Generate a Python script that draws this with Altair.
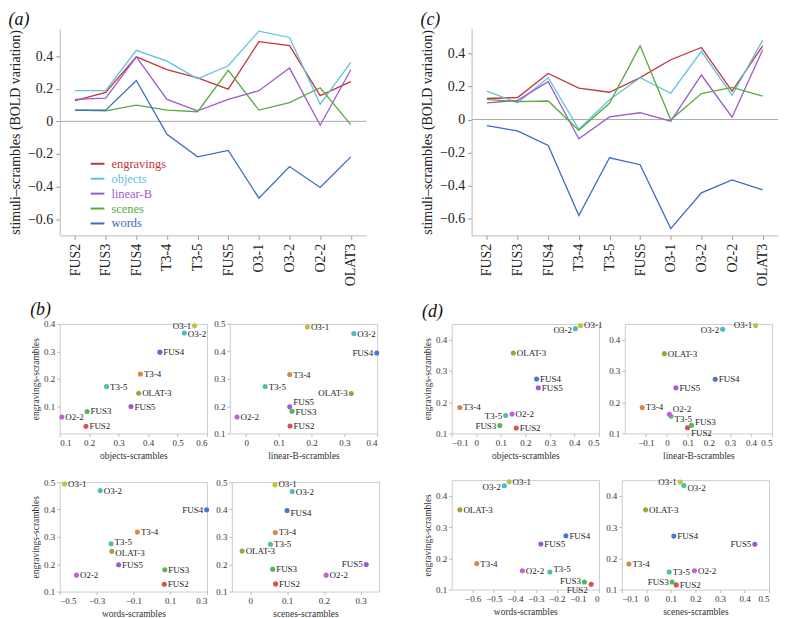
import altair as alt
import pandas as pd

FONT = "Liberation Serif, Times New Roman, Times, Tinos, Noto Serif, DejaVu Serif, serif"

# ---------------- line charts (a) and (c) ----------------
regions = ["FUS2", "FUS3", "FUS4", "T3-4", "T3-5", "FUS5", "O3-1", "O3-2", "O2-2", "OLAT3"]
series = ["engravings", "objects", "linear-B", "scenes", "words"]
line_colors = ["#c4363c", "#5ec3dc", "#9b5bd2", "#5aaa42", "#3d69c8"]

a_engravings = [0.127, 0.178, 0.396, 0.317, 0.267, 0.198, 0.489, 0.465, 0.158, 0.244]
a_objects = [0.188, 0.188, 0.436, 0.370, 0.261, 0.341, 0.554, 0.515, 0.105, 0.362]
a_linearB = [0.135, 0.143, 0.396, 0.135, 0.065, 0.135, 0.188, 0.327, -0.024, 0.317]
a_scenes = [0.069, 0.065, 0.099, 0.069, 0.059, 0.313, 0.069, 0.115, 0.206, -0.020]
a_words = [0.069, 0.069, 0.251, -0.079, -0.218, -0.178, -0.471, -0.277, -0.406, -0.218]

c_engravings = [0.127, 0.133, 0.278, 0.190, 0.165, 0.253, 0.361, 0.435, 0.171, 0.445]
c_objects = [0.171, 0.102, 0.253, -0.059, 0.120, 0.253, 0.159, 0.412, 0.147, 0.480]
c_linearB = [0.100, 0.116, 0.229, -0.116, 0.016, 0.041, -0.010, 0.269, 0.014, 0.422]
c_scenes = [0.122, 0.108, 0.112, -0.065, 0.098, 0.445, -0.002, 0.157, 0.194, 0.141]
c_words = [-0.037, -0.069, -0.157, -0.580, -0.231, -0.273, -0.659, -0.443, -0.365, -0.425]

# ---------------- scatter panels (b) and (d) ----------------
points = ["O3-1", "O3-2", "FUS4", "T3-4", "T3-5", "OLAT-3", "FUS5", "FUS3", "O2-2", "FUS2"]
point_colors = ["#c4bf3c", "#4dbcbc", "#4a78d0", "#d4894a", "#52bf98",
                "#a6a23a", "#9c5ad8", "#50bb50", "#c460d6", "#d8505a"]

b_objects_x = [0.558, 0.523, 0.440, 0.374, 0.259, 0.368, 0.342, 0.193, 0.107, 0.189]
b_objects_y = [0.393, 0.367, 0.297, 0.217, 0.171, 0.147, 0.098, 0.080, 0.060, 0.026]
b_linearB_x = [0.187, 0.329, 0.399, 0.133, 0.058, 0.321, 0.133, 0.140, -0.028, 0.134]
b_linearB_y = [0.489, 0.465, 0.394, 0.315, 0.271, 0.246, 0.197, 0.181, 0.160, 0.127]
b_words_x = [-0.474, -0.280, 0.298, -0.078, -0.221, -0.217, -0.180, 0.071, -0.409, 0.068]
b_words_y = [0.493, 0.469, 0.399, 0.318, 0.275, 0.247, 0.198, 0.180, 0.160, 0.127]
b_scenes_x = [0.067, 0.114, 0.100, 0.068, 0.055, -0.022, 0.315, 0.061, 0.206, 0.069]
b_scenes_y = [0.490, 0.466, 0.396, 0.316, 0.273, 0.248, 0.199, 0.182, 0.160, 0.128]

d_objects_x = [0.425, 0.404, 0.246, -0.067, 0.120, 0.151, 0.253, 0.096, 0.146, 0.163]
d_objects_y = [0.445, 0.435, 0.274, 0.183, 0.157, 0.357, 0.246, 0.125, 0.162, 0.117]
d_linearB_x = [0.422, 0.265, 0.230, -0.117, 0.020, -0.012, 0.043, 0.117, 0.012, 0.098]
d_linearB_y = [0.445, 0.433, 0.273, 0.183, 0.155, 0.355, 0.246, 0.126, 0.161, 0.118]
d_words_x = [-0.427, -0.450, -0.157, -0.581, -0.233, -0.661, -0.276, -0.069, -0.364, -0.037]
d_words_y = [0.445, 0.432, 0.272, 0.183, 0.156, 0.355, 0.246, 0.124, 0.160, 0.117]
d_scenes_x = [0.138, 0.153, 0.112, -0.071, 0.093, -0.003, 0.442, 0.105, 0.196, 0.122]
d_scenes_y = [0.444, 0.433, 0.271, 0.182, 0.156, 0.355, 0.245, 0.124, 0.160, 0.115]

LABEL_EXPR = "datum.value == 0 ? '0' : format(datum.value, '.1f')"


def line_panel(vals, ydomain, title, show_legend):
    rows = []
    for s, arr in zip(series, vals):
        for r, v in zip(regions, arr):
            rows.append({"series": s, "region": r, "value": v})
    df = pd.DataFrame(rows)
    if show_legend:
        cexpr = "datum.label == 'engravings' ? '%s' : datum.label == 'objects' ? '%s' : datum.label == 'linear-B' ? '%s' : datum.label == 'scenes' ? '%s' : '%s'" % tuple(line_colors)
        legend = alt.Legend(orient="none", legendX=30, legendY=128, title=None,
                            symbolType="stroke", symbolSize=190, symbolStrokeWidth=2,
                            labelFont=FONT, labelFontSize=12.5, rowPadding=0, labelOffset=6,
                            labelColor=alt.ExprRef(expr=cexpr))
    else:
        legend = None
    color = alt.Color("series:N", scale=alt.Scale(domain=series, range=line_colors), legend=legend)
    x = alt.X("region:N", sort=regions, scale=alt.Scale(type="point", padding=0.5),
              axis=alt.Axis(title=None, labelAngle=270, labelFontSize=14, domainColor="#bbbbbb",
                            tickColor="#999999", tickSize=4, labelPadding=4, labelColor="#222222",
                            labelFont=FONT))
    y = alt.Y("value:Q", scale=alt.Scale(domain=ydomain, nice=False, zero=False),
              axis=alt.Axis(title="stimuli–scrambles (BOLD variation)", values=[-0.6, -0.4, -0.2, 0, 0.2, 0.4],
                            labelExpr=LABEL_EXPR, labelFontSize=14, titleFontSize=14, domainColor="#bbbbbb",
                            tickColor="#999999", tickSize=4, labelPadding=3, titlePadding=5,
                            labelColor="#222222", titleColor="#222222", labelFont=FONT, titleFont=FONT))
    zero = alt.Chart(pd.DataFrame({"z": [0]})).mark_rule(color="#aaaaaa", strokeWidth=1).encode(y="z:Q")
    lines = alt.Chart(df).mark_line(strokeWidth=1.3).encode(x=x, y=y, color=color)
    return alt.layer(zero, lines).properties(
        width=308, height=208,
        title=alt.TitleParams(title, anchor="start", frame="bounds", font=FONT, fontSize=18,
                              fontStyle="italic", fontWeight="normal", offset=0, color="#111111"))


def scatter_panel(xv, yv, xdom, ydom, xticks, yticks, xtitle, ytitle, place):
    """place: name -> (side, dy) for point labels; default right of the point."""
    df = pd.DataFrame({"name": points, "x": xv, "y": yv})
    yaxis_kw = dict(values=yticks, labelExpr=LABEL_EXPR, domain=False, tickColor="#bbbbbb", tickSize=3,
                    labelFontSize=9, titleFontSize=9.5, labelPadding=2, titlePadding=3,
                    labelColor="#333333", titleColor="#333333", labelFont=FONT, titleFont=FONT)
    yaxis_kw["title"] = ytitle if ytitle else None
    base = alt.Chart(df).encode(
        x=alt.X("x:Q", scale=alt.Scale(domain=xdom, nice=False, zero=False),
                axis=alt.Axis(title=xtitle, values=xticks, labelExpr=LABEL_EXPR, domain=False,
                              tickColor="#bbbbbb", tickSize=3, labelFontSize=9, titleFontSize=9.5,
                              labelPadding=2, titlePadding=3, labelColor="#333333", titleColor="#333333",
                              labelFont=FONT, titleFont=FONT)),
        y=alt.Y("y:Q", scale=alt.Scale(domain=ydom, nice=False, zero=False), axis=alt.Axis(**yaxis_kw)),
    )
    dots = base.mark_circle(size=26, opacity=1).encode(
        color=alt.Color("name:N", scale=alt.Scale(domain=points, range=point_colors), legend=None))
    layers = [dots]
    groups = {}
    for n in points:
        groups.setdefault(place.get(n, ("r", 0)), []).append(n)
    for (side, dy), names in groups.items():
        left = side == "l"
        layers.append(
            base.mark_text(align="right" if left else "left", baseline="middle", dx=-3.5 if left else 3.5,
                           dy=dy, font=FONT, fontSize=9, color="#222222")
            .encode(text="name:N")
            .transform_filter(alt.FieldOneOfPredicate(field="name", oneOf=names)))
    return alt.layer(*layers).properties(width=148, height=110,
                                         view=alt.ViewBackground(stroke="#cccccc"))


a = line_panel([a_engravings, a_objects, a_linearB, a_scenes, a_words], [-0.7, 0.57], "(a)", True)
c = line_panel([c_engravings, c_objects, c_linearB, c_scenes, c_words], [-0.7, 0.55], "(c)", False)

bTL = scatter_panel(b_objects_x, b_objects_y, [0.1, 0.6], [0.0, 0.4], [0.1, 0.2, 0.3, 0.4, 0.5, 0.6],
                    [0.1, 0.2, 0.3, 0.4], "objects-scrambles", "engravings-scrambles",
                    {"O3-1": ("l", 0), "O3-2": ("r", 1)})
bTR = scatter_panel(b_linearB_x, b_linearB_y, [-0.05, 0.4], [0.1, 0.5], [0, 0.1, 0.2, 0.3, 0.4],
                    [0.1, 0.2, 0.3, 0.4, 0.5], "linear-B-scrambles", None,
                    {"FUS4": ("l", 0), "OLAT-3": ("l", 0), "FUS5": ("r", -5), "FUS3": ("r", 1)})
bBL = scatter_panel(b_words_x, b_words_y, [-0.5, 0.3], [0.1, 0.5], [-0.5, -0.3, -0.1, 0.1, 0.3],
                    [0.1, 0.2, 0.3, 0.4, 0.5], "words-scrambles", "engravings-scrambles",
                    {"FUS4": ("l", 0), "T3-5": ("r", -2), "OLAT-3": ("r", 2)})
bBR = scatter_panel(b_scenes_x, b_scenes_y, [-0.05, 0.35], [0.1, 0.5], [0, 0.1, 0.2, 0.3],
                    [0.1, 0.2, 0.3, 0.4, 0.5], "scenes-scrambles", None,
                    {"FUS5": ("l", 0), "O3-1": ("r", -1), "O3-2": ("r", 1), "FUS4": ("r", 2)})

dTL = scatter_panel(d_objects_x, d_objects_y, [-0.1, 0.5], [0.1, 0.45], [-0.1, 0, 0.1, 0.2, 0.3, 0.4, 0.5],
                    [0.1, 0.2, 0.3, 0.4], "objects-scrambles", "engravings-scrambles",
                    {"O3-2": ("l", 1), "T3-5": ("l", 0), "FUS3": ("l", 0)})
dTR = scatter_panel(d_linearB_x, d_linearB_y, [-0.2, 0.5], [0.1, 0.45], [-0.1, 0, 0.1, 0.2, 0.3, 0.4, 0.5],
                    [0.1, 0.2, 0.3, 0.4], "linear-B-scrambles", None,
                    {"O3-2": ("l", 1), "O3-1": ("l", 0), "O2-2": ("r", -5), "T3-5": ("r", 3),
                     "FUS3": ("r", -3), "FUS2": ("r", 5)})
dBL = scatter_panel(d_words_x, d_words_y, [-0.7, 0.0], [0.1, 0.45], [-0.6, -0.5, -0.4, -0.3, -0.2, -0.1, 0],
                    [0.1, 0.2, 0.3, 0.4], "words-scrambles", "engravings-scrambles",
                    {"O3-2": ("l", 1), "T3-5": ("r", -3), "FUS3": ("l", -1), "FUS2": ("l", 6)})
dBR = scatter_panel(d_scenes_x, d_scenes_y, [-0.1, 0.5], [0.1, 0.45], [-0.1, 0, 0.1, 0.2, 0.3, 0.4, 0.5],
                    [0.1, 0.2, 0.3, 0.4], "scenes-scrambles", None,
                    {"O3-1": ("l", 0), "O3-2": ("r", 3), "FUS5": ("l", 0), "FUS3": ("l", 0)})


def grid(tl, tr, bl, br, title):
    r1 = alt.hconcat(tl, tr, spacing=5).resolve_scale(color="independent")
    r2 = alt.hconcat(bl, br, spacing=5).resolve_scale(color="independent")
    return alt.vconcat(r1, r2, spacing=17, title=alt.TitleParams(
        title, anchor="start", font=FONT, fontSize=18, fontStyle="italic", fontWeight="normal",
        offset=0, color="#111111")).resolve_scale(color="independent")


top = alt.hconcat(a, c, spacing=53).resolve_scale(color="independent")
bottom = alt.hconcat(grid(bTL, bTR, bBL, bBR, "(b)"), grid(dTL, dTR, dBL, dBR, "(d)"),
                     spacing=42).resolve_scale(color="independent")

chart = (alt.vconcat(top, bottom, spacing=14)
         .resolve_scale(color="independent")
         .properties(padding=0)
         .configure(font=FONT)
         .configure_view(stroke="transparent")
         .configure_axis(grid=False, labelFont=FONT, titleFont=FONT, titleFontWeight="normal")
         .configure_legend(labelFont=FONT))

chart.save("out.html", embed_options={"renderer": "svg", "actions": False})
